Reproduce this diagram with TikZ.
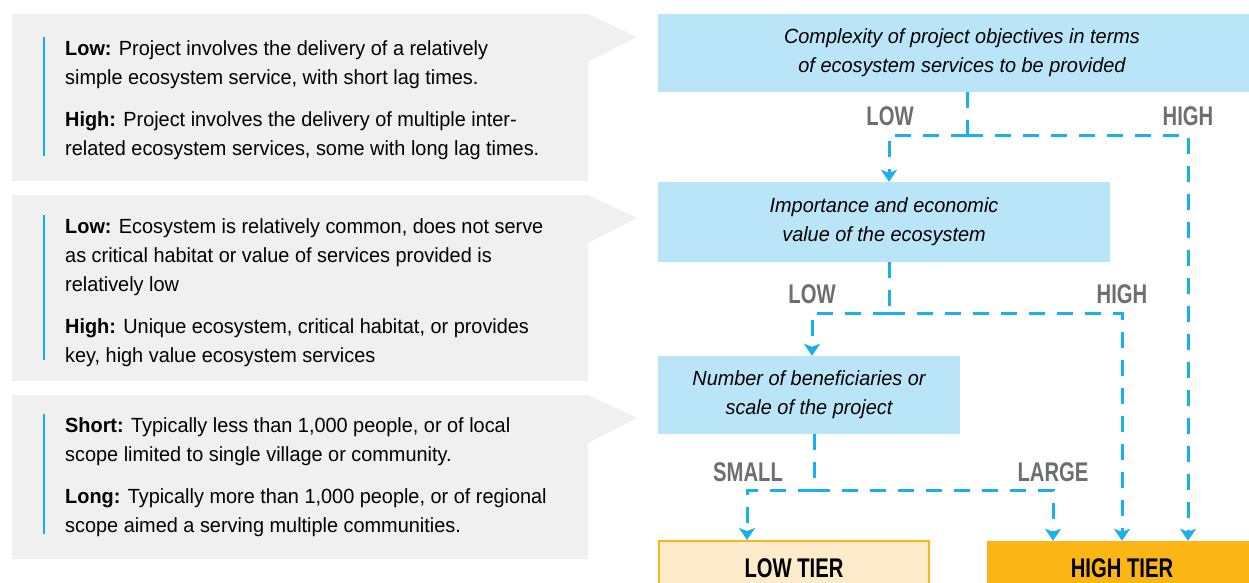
\documentclass[tikz,border=0pt]{standalone}
\usepackage{fontspec}
\setmainfont{Liberation Sans}[FakeStretch=0.97]
\newfontfamily\lblfont{Liberation Sans}[FakeStretch=0.75]
\usetikzlibrary{arrows.meta}
\usepackage{xcolor}

\definecolor{notegray}{HTML}{F0F0F0}
\definecolor{barblue}{HTML}{12AEEF}
\definecolor{qblue}{HTML}{BAE5F9}
\definecolor{linkblue}{HTML}{1AB0ED}
\definecolor{lblgray}{HTML}{6D6E71}
\definecolor{tierpale}{HTML}{FEEBCB}
\definecolor{tierorange}{HTML}{FBB615}

\begin{document}
\begin{tikzpicture}[
    x=1pt, y=-1pt,
    note/.style={anchor=base west, align=left, inner sep=0pt, font=\fontsize{20.5}{29}\selectfont},
    bar/.style={barblue, line width=2.5pt},
    question/.style={fill=qblue, inner sep=0pt, align=center, font=\itshape\fontsize{20.5}{29}\selectfont},
    tier/.style={inner sep=0pt, minimum width=270pt, minimum height=54pt, font=\lblfont\bfseries\fontsize{27}{30}\selectfont},
    lbl/.style={inner sep=0pt, text=lblgray, font=\lblfont\bfseries\fontsize{27}{30}\selectfont},
    link/.style={linkblue, line width=3pt, dash pattern=on 16pt off 12pt},
    tip/.style={-{Stealth[length=12pt, width=16pt, inset=3pt]}}
]
\useasboundingbox (0,0) rectangle (1249,582);
\clip (0,0) rectangle (1249,582);

% grey notes with pointers
\foreach \t/\b in {14/181, 195/381, 395/559}
  \fill[notegray] (12,\t) -- (588,\t) -- (637,\t+23) -- (588,\t+48) -- (588,\b) -- (12,\b) -- cycle;

\draw[bar] (44,37) -- (44,156);
\draw[bar] (44,215) -- (44,360);
\draw[bar] (44,414) -- (44,534);

% base anchor sits on the last line
\node[note] (n1low) at (65,84) {\textbf{Low:} Project involves the delivery of a relatively\\simple ecosystem service, with short lag times.};
\node[note] (n1high) at (65,155) {\textbf{High:} Project involves the delivery of multiple inter-\\related ecosystem services, some with long lag times.};

\node[note] (n2low) at (65,291) {\textbf{Low:} Ecosystem is relatively common, does not serve\\as critical habitat or value of services provided is\\relatively low};
\node[note] (n2high) at (65,362) {\textbf{High:} Unique ecosystem, critical habitat, or provides\\key, high value ecosystem services};

\node[note] (n3short) at (65,461) {\textbf{Short:} Typically less than 1,000 people, or of local\\scope limited to single village or community.};
\node[note] (n3long) at (65,532) {\textbf{Long:} Typically more than 1,000 people, or of regional\\scope aimed a serving multiple communities.};

% decision boxes
\node[question, minimum width=608pt, minimum height=78pt] (qa) at (962,53) {Complexity of project objectives in terms\\of ecosystem services to be provided};
\node[question, minimum width=452pt, minimum height=80pt] (qb) at (884,222) {Importance and economic\\value of the ecosystem};
\node[question, minimum width=302pt, minimum height=78pt] (qc) at (809,395) {Number of beneficiaries or\\scale of the project};

\node[tier, fill=tierpale, draw=tierorange, line width=2pt] (lowtier) at (794,568) {LOW TIER};
\node[tier, fill=tierorange] (hightier) at (1122,568) {HIGH TIER};

% branch labels
\node[lbl] (lowa) at (890,116) {LOW};
\node[lbl] (higha) at (1188,116) {HIGH};
\node[lbl] (lowb) at (812,294) {LOW};
\node[lbl] (highb) at (1122,294) {HIGH};
\node[lbl] (smallc) at (748,472) {SMALL};
\node[lbl] (largec) at (1053,472) {LARGE};

% connectors
\draw[link] ([xshift=5pt]qa.south) -- ++(0,43) coordinate (ja);
\draw[link, tip] (ja) -| ([xshift=5pt]qb.north);
\draw[link, tip] (ja) -| ([xshift=66pt]hightier.north);

\draw[link] ([xshift=5pt]qb.south) -- ++(0,51) coordinate (jb);
\draw[link, tip] (jb) -| ([xshift=3pt]qc.north);
\draw[link, tip] (jb) -| (hightier.north);

\draw[link] ([xshift=5pt]qc.south) -- ++(0,56) coordinate (jc);
\draw[link, tip] (jc) -| ([xshift=-47pt]lowtier.north);
\draw[link, tip] (jc) -| ([xshift=-69pt]hightier.north);

\end{tikzpicture}
\end{document}
